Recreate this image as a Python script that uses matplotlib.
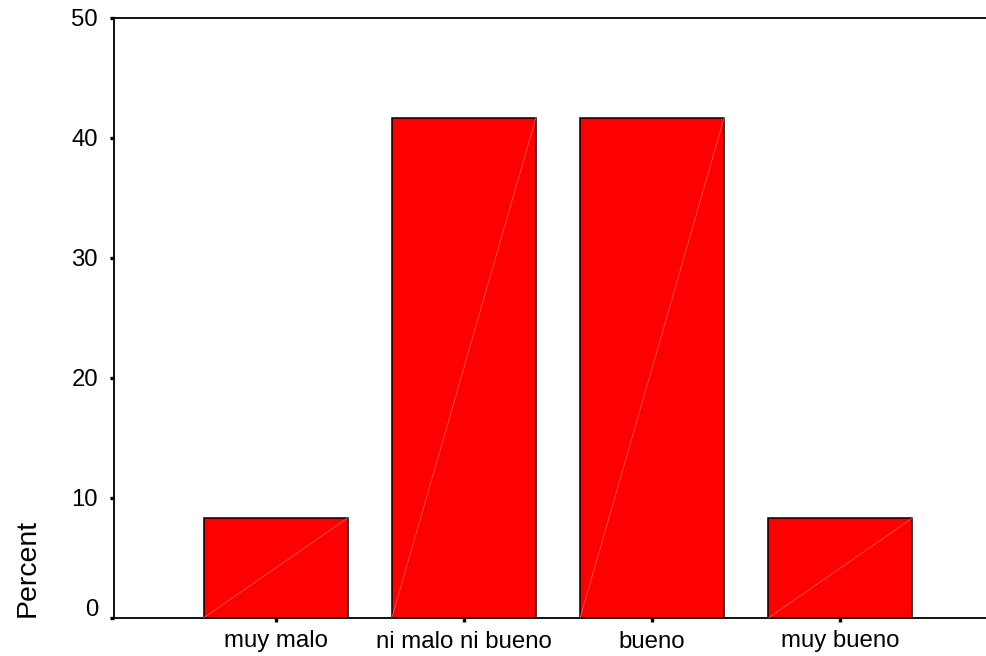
import matplotlib
matplotlib.use("Agg")
import matplotlib.pyplot as plt
from matplotlib.transforms import ScaledTranslation

categories = ["muy malo", "ni malo ni bueno", "bueno", "muy bueno"]
percent = [8.33, 41.67, 41.67, 8.33]
y_ticks = [0, 10, 20, 30, 40, 50]

plt.rcParams['font.family'] = ['Liberation Sans', 'DejaVu Sans']

fig = plt.figure(figsize=(9.87, 6.56), dpi=100)
ax = fig.add_axes([114/987, 38/656, 1 - 114/987 + 0.01, 600/656])

width = 0.765
pos = list(range(len(categories)))
bars = ax.bar(pos, percent, width=width, color='#ff0000', edgecolor='black', linewidth=1.1, zorder=2)
for p, v in zip(pos, percent):
    ax.plot([p - width/2, p + width/2], [0, v], color='#ff6a6a', linewidth=0.5, zorder=3)

ax.set_xlim(-0.858, 3.781 + 0.05)
ax.set_ylim(0, 50)
ax.set_yticks(y_ticks)
ax.set_xticks(pos)
ax.set_xticklabels(categories)

ax.spines['right'].set_visible(False)
for s in ['left', 'top', 'bottom']:
    ax.spines[s].set_linewidth(1.3)

ax.tick_params(axis='y', direction='out', length=3, width=2.4, pad=8.6, labelsize=17.2)
ax.tick_params(axis='x', direction='out', length=3, width=2.4, pad=6, labelsize=17.3)

fig.canvas.draw()
lbl0 = ax.get_yticklabels()[0]
lbl0.set_transform(lbl0.get_transform() + ScaledTranslation(0, 10/100, fig.dpi_scale_trans))

fig.text(28/987, 39/656, 'Percent', rotation=90, ha='center', va='bottom', fontsize=20.5)

fig.savefig('out.png', dpi=100)
